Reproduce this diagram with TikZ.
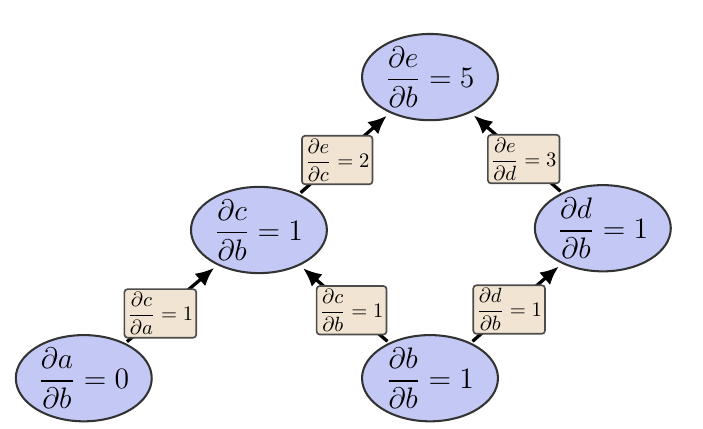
\documentclass[tikz,border=0pt]{standalone}
\usepackage{tikz}
\usepackage{amsmath, amssymb}
\usetikzlibrary{shapes.geometric, arrows.meta}
\definecolor{valueblue}{RGB}{196,200,245}
\definecolor{localtan}{RGB}{242,228,210}
\tikzstyle{value}=[ellipse, draw=black!80, line width=1pt, fill=valueblue, minimum width=2.32cm, minimum height=1.2cm, inner sep=0pt, font=\Large]
\tikzstyle{local}=[rectangle, rounded corners=1.5pt, draw=black!70, line width=0.8pt, fill=localtan, inner sep=1.5pt, font=\normalsize]
\tikzstyle{chain}=[line width=1.6pt, shorten <=1pt, shorten >=2pt, -{Latex[length=9pt, width=8pt]}]

\begin{document}
\begin{tikzpicture}
				\useasboundingbox (0,0) rectangle (12,7.306);

				\node[value] (de) at (7.34,5.99) {$\dfrac{\partial e}{\partial b} = 5$};
				\node[value] (dc) at (4.42,3.38) {$\dfrac{\partial c}{\partial b} = 1$};
				\node[value] (dd) at (10.29,3.41) {$\dfrac{\partial d}{\partial b} = 1$};
				\node[value] (da) at (1.43,0.85) {$\dfrac{\partial a}{\partial b} = 0$};
				\node[value] (db) at (7.34,0.85) {$\dfrac{\partial b}{\partial b} = 1$};

				\draw[chain] (dc) -- node[local, pos=0.42] (ec) {$\dfrac{\partial e}{\partial c} = 2$} (de);
				\draw[chain] (dd) -- node[local, pos=0.42] (ed) {$\dfrac{\partial e}{\partial d} = 3$} (de);
				\draw[chain] (da) -- node[local, pos=0.38] (ca) {$\dfrac{\partial c}{\partial a} = 1$} (dc);
				\draw[chain] (db) -- node[local, pos=0.42] (cb) {$\dfrac{\partial c}{\partial b} = 1$} (dc);
				\draw[chain] (db) -- node[local, pos=0.42] (bd) {$\dfrac{\partial d}{\partial b} = 1$} (dd);
			\end{tikzpicture}
\end{document}
